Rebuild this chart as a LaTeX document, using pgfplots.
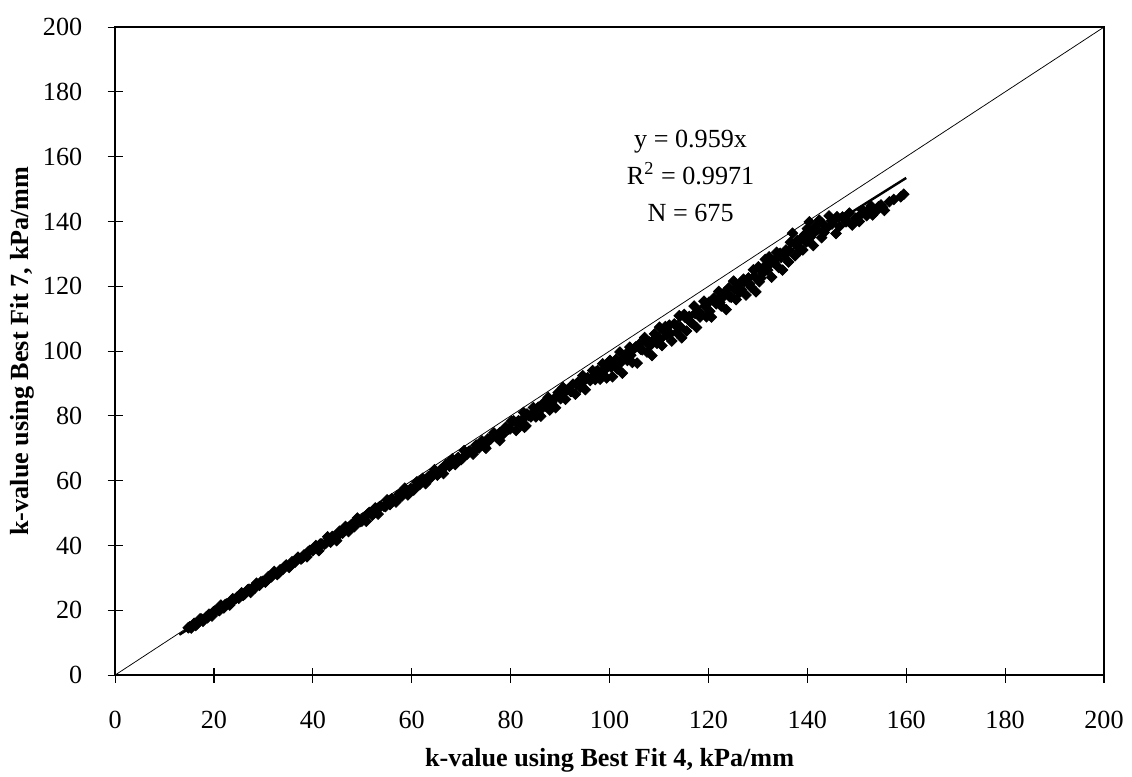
\documentclass[border=0pt]{standalone}
\usepackage{fontspec}
\setmainfont{Liberation Serif}
\usepackage{pgfplots}
\usepackage{pgfplotstable}
\pgfplotsset{compat=1.18}
\pgfplotstableread{
x y
14.8 14.6
15.4 14.5
16.0 16.0
16.6 15.8
17.2 17.4
17.8 16.6
18.4 17.9
19.0 18.8
19.6 18.2
20.2 19.9
20.8 20.0
21.4 21.6
22.0 20.7
22.6 22.0
23.2 21.6
23.8 23.6
24.4 23.6
25.0 23.7
25.6 25.4
26.2 25.0
26.8 26.3
27.4 25.5
28.0 27.2
28.6 28.4
29.2 27.7
29.8 28.9
30.4 28.7
31.0 30.4
31.6 30.3
32.2 32.0
32.8 31.0
33.4 32.5
34.0 32.7
34.6 34.0
35.2 33.2
35.8 35.0
36.4 34.8
37.0 36.4
37.6 35.8
38.2 37.1
38.8 36.5
39.4 38.5
40.0 38.4
40.6 40.0
41.2 38.4
41.8 40.5
42.4 40.4
43.0 42.7
43.6 41.0
44.2 42.6
44.8 41.5
45.4 44.4
46.0 43.8
46.6 45.9
47.2 44.3
47.8 46.5
48.4 45.8
49.0 48.5
49.6 47.4
50.2 48.5
50.8 47.5
51.4 50.2
52.0 49.3
52.6 51.6
53.2 49.7
53.8 52.2
54.4 52.1
55.0 54.1
55.6 52.6
56.2 54.1
56.8 53.4
57.4 55.8
58.0 55.2
58.6 57.7
59.2 55.6
59.8 57.6
60.4 57.1
61.0 59.6
61.6 58.8
62.2 60.7
62.8 59.1
63.4 61.3
64.0 61.1
64.6 63.4
65.2 61.7
65.8 63.4
66.4 62.2
67.0 65.1
67.6 64.5
68.2 66.7
68.8 65.0
69.4 67.2
70.0 66.5
70.6 69.3
71.2 68.2
71.8 69.2
72.4 68.2
73.0 71.0
73.6 70.1
74.2 72.3
74.8 70.4
75.0 70.0
75.4 72.9
76.0 72.9
76.6 74.8
77.2 73.3
77.8 74.8
77.8 72.4
78.4 74.2
79.0 76.5
79.6 75.9
80.2 78.4
80.6 78.5
81.1 75.5
81.6 78.5
82.1 77.4
82.6 81.1
82.8 76.5
83.1 76.9
83.6 80.1
84.1 79.7
84.6 82.6
85.1 79.7
85.6 82.7
86.1 79.9
86.6 83.9
87.1 83.0
87.6 85.7
87.9 81.8
88.1 82.8
88.6 85.0
89.1 82.5
89.6 87.2
90.1 85.3
90.6 88.8
91.1 85.1
91.6 88.2
92.1 87.6
92.6 89.8
93.1 86.7
93.6 90.4
94.1 88.8
94.6 92.4
95.1 88.1
95.6 91.8
96.1 90.9
96.6 94.0
97.1 91.2
97.6 94.0
98.1 91.3
98.6 96.1
99.1 94.3
99.4 91.7
99.6 96.2
100.1 97.1
100.6 92.1
101.1 96.5
101.6 94.5
102.1 99.7
102.6 93.2
103.1 97.9
103.6 97.1
104.1 101.2
104.6 96.5
105.1 100.9
105.6 96.3
106.1 102.3
106.6 100.4
107.1 104.2
107.6 99.7
108.1 102.8
108.6 98.6
109.1 105.3
109.6 102.4
110.1 107.4
110.6 101.7
111.1 106.1
111.6 104.9
112.1 108.0
112.6 103.1
113.1 108.4
113.6 105.7
114.1 110.9
114.6 104.1
115.1 111.3
115.6 106.2
116.1 110.7
116.6 108.7
117.1 113.9
117.6 107.3
118.1 112.1
118.6 111.3
119.1 115.4
119.6 110.6
120.1 115.1
120.6 110.5
121.1 116.4
121.6 114.6
122.1 118.4
122.6 113.9
123.1 116.9
123.6 112.8
124.1 119.5
124.6 116.6
125.1 121.6
125.6 115.9
126.1 120.3
126.6 119.0
127.1 122.2
127.6 117.3
128.1 122.6
128.6 119.8
129.1 125.1
129.6 118.3
130.1 126.0
130.6 122.5
131.0 124.0
131.5 128.3
132.0 125.0
132.3 129.1
132.8 122.8
133.3 127.2
133.8 130.5
134.2 125.8
134.7 128.9
135.0 125.0
135.7 131.2
136.2 127.5
136.6 133.6
137.0 136.4
137.5 129.4
138.0 134.2
138.5 131.0
139.1 131.2
139.5 136.0
140.0 137.8
140.4 139.9
140.7 135.3
141.2 132.6
141.7 138.5
142.4 140.4
142.9 135.0
143.4 136.6
143.8 137.8
144.4 141.7
145.0 139.2
145.8 136.3
146.5 138.5
147.1 141.4
147.8 139.9
148.5 142.6
149.1 138.9
149.8 141.0
150.5 140.0
151.2 143.5
152.0 141.8
152.6 144.0
153.2 142.0
153.8 143.0
154.4 144.6
154.9 145.1
155.6 143.4
156.6 146.1
158.9 147.6
159.5 148.4
15.1 14.9
16.3 15.3
17.5 17.3
18.7 17.7
19.9 19.6
21.1 19.9
22.3 21.8
23.5 22.3
24.7 24.1
25.9 24.6
27.1 26.5
28.3 26.9
29.5 28.8
30.7 29.2
31.9 31.2
33.1 31.5
34.3 33.5
35.5 33.9
36.7 35.8
37.9 36.2
39.1 38.1
41.5 40.5
42.7 40.8
43.9 42.8
45.1 43.0
46.3 45.1
47.5 45.3
48.7 47.4
49.9 47.5
51.1 49.7
52.3 49.9
53.5 52.0
54.7 52.0
55.9 54.4
57.1 54.3
58.3 56.7
59.5 56.6
60.7 58.0
61.9 59.9
63.1 60.0
64.3 62.3
65.5 62.4
66.7 64.3
67.9 64.9
69.1 66.6
70.3 67.0
71.5 69.0
72.7 69.4
73.9 71.3
75.1 71.6
76.3 73.5
77.5 73.9
78.7 75.9
79.9 76.0
81.3 78.0
82.3 78.8
83.3 80.6
84.3 80.6
85.3 82.0
86.3 82.3
87.3 84.4
88.3 84.1
89.3 86.0
90.3 86.5
91.3 87.9
92.3 87.6
93.3 89.8
94.3 90.0
95.3 91.5
96.3 91.6
97.3 93.6
98.3 93.4
99.3 95.0
100.3 95.1
101.3 97.4
102.3 96.5
103.3 99.1
104.3 98.7
105.3 101.3
106.3 100.6
107.3 102.9
108.3 101.8
109.3 104.1
110.3 103.7
111.3 107.6
112.3 105.4
113.3 108.0
114.3 107.5
115.3 110.4
116.3 109.1
117.3 111.6
118.3 110.5
119.3 113.9
120.3 112.3
121.3 115.7
122.3 115.0
123.3 118.2
124.3 116.8
125.3 119.0
126.3 118.1
127.3 121.5
128.3 120.7
129.3 123.0
130.3 121.4
131.3 126.1
132.5 126.9
133.6 128.4
134.5 130.2
135.4 129.6
136.4 131.0
137.8 132.6
138.8 134.8
139.8 133.7
141.0 136.5
142.0 137.4
143.0 139.5
144.9 140.2
146.0 141.5
148.0 140.2
150.9 142.3
152.9 144.8
155.2 144.4
157.5 146.8
}\kdata
\begin{document}
\begin{tikzpicture}
\begin{axis}[
  scale only axis, width=529.4pt, height=346.9pt,
  xmin=0, xmax=200, ymin=0, ymax=200,
  xtick={0,20,...,200}, ytick={0,20,...,200},
  tick pos=left, tick align=center, major tick length=8pt,
  tick style={black, line width=0.6pt},
  axis line style={black, line width=0.9pt},
  /pgf/number format/assume math mode=true,
  tick label style={font=\fontsize{14}{16}\selectfont},
  xticklabel style={anchor=center, yshift=-19.8pt},
  yticklabel style={anchor=east, inner sep=0pt, xshift=-13.4pt},
  xlabel={k-value using Best Fit 4, kPa/mm},
  ylabel={k-value using Best Fit 7, kPa/mm},
  label style={font=\bfseries\fontsize{14}{16}\selectfont},
  xlabel style={at={(axis description cs:0.5,-0.1312)}, anchor=center},
  ylabel style={at={(axis description cs:-0.0941,0.5)}, anchor=center},
]
\addplot[only marks, mark=square*, mark size=2.0pt, mark options={rotate=45, fill=black, draw=black}] table[x=x, y=y] {\kdata};
\addplot[black, line width=0.4pt] coordinates {(0,0) (200,200)};
\addplot[black, line width=1.3pt] coordinates {(13,12.47) (160,153.44)};
\node[align=center, font=\fontsize{14}{19.8}\selectfont] at (axis cs:116.4,154) {y = 0.959x\\R\textsuperscript{2} = 0.9971\\N = 675};
\coordinate (sw) at (rel axis cs:0,0);
\coordinate (ne) at (rel axis cs:1,1);
\end{axis}
\pgfresetboundingbox
\path[use as bounding box] ([shift={(-61.6pt,-54.1pt)}]sw) rectangle ([shift={(15pt,14.5pt)}]ne);
\end{tikzpicture}
\end{document}
